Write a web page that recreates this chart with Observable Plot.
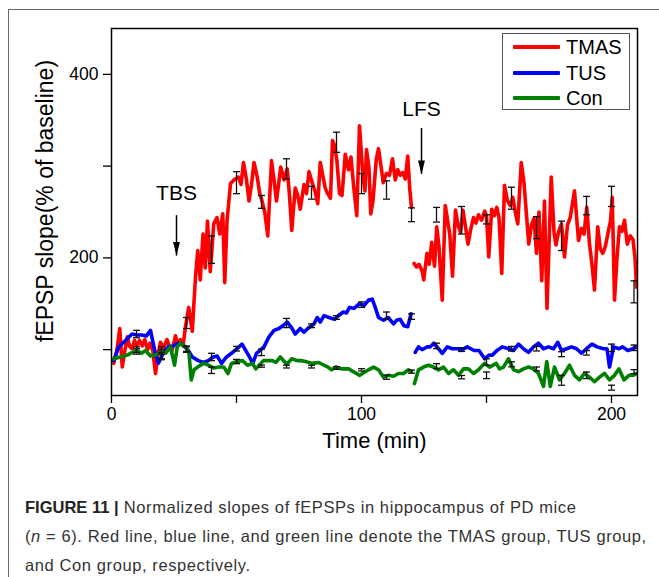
<!DOCTYPE html>
<html>
<head>
<meta charset="utf-8">
<script src="https://cdn.jsdelivr.net/npm/d3@7"></script>
<script src="https://cdn.jsdelivr.net/npm/@observablehq/plot@0.6"></script>
<style>
  html, body { margin: 0; padding: 0; background: #fff; }
  body { width: 659px; height: 577px; overflow: hidden; position: relative;
         font-family: "Liberation Sans", Arial, sans-serif; }
  #page { position: absolute; left: 8px; top: 9px; width: 700px; height: 700px;
          border: 1px solid #6a6a6a; }
  #chart { position: absolute; left: 0; top: 0; }
  #ytitle { position: absolute; left: 45px; top: 201px; width: 0; height: 0; }
  #ytitle span { position: absolute; left: 0; top: 0; white-space: nowrap; font-size: 23px;
                 color: #000; transform: translate(-50%, -50%) rotate(-90deg); }
  #legend { position: absolute; left: 502px; top: 33px; width: 126px; height: 75px;
            border: 1px solid #555; background: #fff; }
  .row { position: absolute; left: 0; height: 26px; width: 126px; }
  .swatch { position: absolute; left: 10px; width: 47px; height: 4px; top: 11px; border-radius: 1px; }
  .name { position: absolute; left: 63px; top: 0; font-size: 20px; line-height: 26px; color: #000; }
  #caption { position: absolute; left: 25px; top: 493px; width: 640px; font-size: 16.5px;
             letter-spacing: 0.6px; line-height: 29px; color: #333; white-space: nowrap; }
  #caption b { color: #222; letter-spacing: 0; }
</style>
</head>
<body>
<div id="page"></div>
<div id="chart"></div>
<div id="ytitle"><span></span></div>
<div id="legend"></div>
<div id="caption"><b>FIGURE 11 |</b> Normalized slopes of fEPSPs in hippocampus of PD mice<br>(<i>n</i> = 6). Red line, blue line, and green line denote the TMAS group, TUS group,<br>and Con group, respectively.</div>
<script>
// ---- groups ----
const groupNames = ["TMAS", "TUS", "Con"];
const groupColors = ["#ff0000", "#0000ff", "#008000"];

// ---- TMAS: normalized fEPSP slope (% of baseline) vs time (min) ----
const tmasTime = [0.9,2.2,3.3,4.3,5.3,6.3,7.2,8.2,9.2,10.2,11.2,12.3,13.3,14.4,15.4,16.5,17.6,18.6,19.6,20.8,22.2,23.2,24.2,25.6,26.6,27.6,28.6,29.6,30.9,32.3,33.6,34.5,35.5,36.6,37.5,38.4,39.5,40.9,42.2,43.3,44.5,45.3,46.2,47.6,49,50.8,51.8,52.8,54,55,56,57,58.3,59.3,60.2,61.3,62.5,64,65,66,67.7,69,70.3,71.2,72.1,73.5,74.5,75.5,77,78,79,80.5,81.5,82.5,83.5,84.5,85.5,86.5,87.6,88.4,89.3,90.2,91.2,92.2,93.5,94.8,95.8,96.8,98.1,99.2,100.6,101.4,102,103,103.7,104.6,105.9,106.8,107.8,108.7,110,111.2,112.4,113.5,114.5,115.5,116.5,117.5,118.5,119.3,120,
  121,122,123,124.2,124.9,126.2,127.1,128.1,129.2,130.1,131,132.3,133.5,134.5,135.3,136.4,137.6,138.6,139.6,140.6,141.6,142.6,143.6,144.8,145.8,146.8,148,149.3,150,150.9,152.1,153.1,154.1,155,156.1,157.2,158.3,159.5,160.5,161.5,162.5,163.9,165,165.9,166.9,168,169,170,171,172.1,173.2,174.2,175.9,177,177.8,178.8,180,181.2,182.4,183.5,185.2,186.8,188,189,190.1,191.2,192.1,193.2,194.5,195.5,196.5,197.6,198.8,199.6,200.3,201.2,202.2,203.2,204.2,205.2,206.3,207.5,208.6,209.4,210];
const tmasSlope = [85,100,123,81,98,114,104,101,110,104,110,104,111,100,107,99,74,95,108,102,111,103,99,115,105,111,104,125,146,120,179,208,176,226,189,240,185,237,244,226,248,173,240,281,285,288,280,304,285,262,280,304,288,270,262,250,224,306,285,262,299,285,297,268,230,276,268,253,280,270,294,280,272,259,304,290,276,270,265,328,322,305,270,268,313,296,310,280,246,344,288,273,318,298,248,262,307,319,300,282,292,290,308,285,296,290,293,286,311,275,255,
  194,190,193,186,176,205,193,217,191,234,212,154,257,240,226,180,252,236,228,252,234,215,230,244,238,247,241,251,246,201,253,246,255,244,183,279,263,257,266,250,237,304,282,250,215,236,243,205,250,175,262,145,288,228,214,228,237,201,236,244,273,219,232,226,255,215,195,165,234,210,205,213,230,240,266,154,200,234,229,241,215,224,220,200,168];

// ---- TUS ----
const tusTime = [0.9,2.9,5.6,8.2,10,12,14,15.6,17.3,18.7,20.7,22.7,24.7,26.7,28.7,30.7,32.3,34.7,36.7,38.7,40.7,42.3,44,46,48,50.2,52.2,53.5,55,56.5,58,59.3,61,63,65,67,68.5,70.3,72,73.5,75.5,77,78.5,80,81,82.3,83.5,85,87,89.3,90.7,92.7,94,95.2,97,99.2,101,102.8,104.3,105.5,106.8,108.8,110.7,112.8,114,115.5,117,118.5,119.8,
  121.5,122.8,124.2,126.3,127.5,128.9,130.8,132.3,134.3,136.3,138.3,140.3,142.3,145,147,149.3,151,152.3,154.2,156.3,158.8,160.8,162.8,164.8,166.8,168.8,170.8,172.8,174.8,176.8,178.5,180,182,184,186,188,190,192.2,194.2,196.8,198.2,199.2,200.8,203,204.5,206.5,208.5,210];
const tusSlope = [88,103,110,117,116,116,115,121,99,85,96,103,104,107,105,99,92,88,86,88,92,93,85,92,96,101,106,100,93,85,96,99,103,114,121,123,126,130,124,117,123,119,123,126,128,135,130,137,135,133,137,141,140,146,145,150,148,154,155,146,135,132,135,128,132,133,126,125,139,
  97,103,100,103,103,107,101,96,103,101,101,100,103,99,99,90,94,94,99,103,101,99,106,101,97,103,107,101,103,101,108,99,101,103,101,96,101,106,103,101,101,81,103,101,103,99,101,103];

// ---- Con ----
const conTime = [0.9,3.6,6.3,8.3,10.3,12,13.6,15.6,17.6,19.6,21.6,23.6,25.2,26.3,27.6,29.6,31,31.9,33,35,36.9,38.9,40.9,42.9,44.9,46.6,48,50.4,52.4,54.4,56.4,57.7,60.8,62.5,64.4,65.8,67.5,70.1,72.1,74.3,75.7,77.6,80.3,82.9,85,86.6,88,89.7,92.3,93.2,95,96.7,99.3,101,102.8,104.8,106.8,108.8,110.8,112.8,114.8,116.8,118.8,120,
  121.2,122.8,124.8,126.8,128.8,130.8,132.8,134.8,136.8,138.8,140.8,142.8,144.8,146.8,149.2,151.2,153.9,155.2,156.8,158.8,160.8,162.8,164.8,166.8,168.8,170.8,172.8,174.1,175.5,177.2,179.2,181.2,183.2,185.2,187.2,189.2,191.2,193.2,195.2,197.2,199.2,201.2,203,205,207,208.8,210];
const conSlope = [90,92,94,97,99,96,99,93,94,97,96,103,83,103,107,103,96,67,78,82,85,83,80,81,81,74,85,87,88,83,85,79,88,88,88,86,92,84,90,88,88,87,85,86,83,81,78,81,79,79,79,76,72,75,78,81,78,70,72,71,74,74,78,76,
  63,78,81,83,81,78,81,74,78,72,79,79,74,78,85,81,85,79,81,90,78,76,79,81,79,74,60,87,60,81,67,74,83,72,67,74,70,65,70,74,67,72,79,67,72,72,74];

// ---- error bars (mean ± SEM) every 10 min ----
const errTime = [10,20,30,40,50,60,70,80,90,100,110,120,130,140,150,160,170,180,190,200,209];
const tmasErrMean = [100,99,129,209,282,261,297,271,326,281,274,247,247,241,242,265,233,224,257,267,163];
const tmasErrSem  = [3,4,6,15,12,7,11,7,11,11,10,7.5,8,15,5,12,12,16,10,11,12];
const tusErrMean  = [117,95,101,92,101,97,129,126,135,149,137,136,104,100,86.5,101,101,95,96.5,102,102];
const tusErrSem   = [4,5,3,4,2.5,3.5,5,2,2,3,4,3,3,2,3.5,2.5,2.5,2.7,2.5,4,3];
const conErrMean  = [98,93,100,77.5,87,82,81.5,81.5,80,78,70,76,82,70,72,84,79,66.6,72,58.5,76];
const conErrSem   = [3,4,3,3.5,2.3,1.2,1.5,1.5,1.5,1.3,2.3,1.7,2.7,1.8,3.6,2.7,2.1,5.4,3.6,2.7,2.2];

// ---- axes ----
const xTicks = [0, 50, 100, 150, 200];
const xTickLabels = [0, 100, 200];
const yTicks = [100, 200, 300, 400];
const yTickLabels = [200, 400];
const xTitle = "Time (min)";
const yTitle = "fEPSP slope(% of baseline)";

// recording pause around low-frequency stimulation
const recordingBreak = 120.5;

// ---- stimulation annotations ----
const stimLabels = ["TBS", "LFS"];
const stimTime = [26, 124];
const stimArrowTop = [246, 341];
const stimArrowTip = [202, 291];
const stimLabelLevel = [270, 362];

const zip = (ts, vs) => ts.map((t, i) => ({t, v: vs[i]}));
const series = [
  {name: groupNames[0], color: groupColors[0], rows: zip(tmasTime, tmasSlope)},
  {name: groupNames[1], color: groupColors[1], rows: zip(tusTime, tusSlope)},
  {name: groupNames[2], color: groupColors[2], rows: zip(conTime, conSlope)}
];
const errRows = (means, sems) => errTime.map((t, i) => ({t, m: means[i], s: sems[i]}));
const errors = [errRows(tmasErrMean, tmasErrSem), errRows(tusErrMean, tusErrSem), errRows(conErrMean, conErrSem)];
const stims = stimLabels.map((label, i) => ({label, t: stimTime[i], top: stimArrowTop[i], tip: stimArrowTip[i], ly: stimLabelLevel[i]}));

// horizontal cap for error bars
const capSymbol = {
  draw(context, size) {
    const w = Math.sqrt(size) / 2;
    context.moveTo(-w, 0);
    context.lineTo(w, 0);
  }
};
// narrow filled arrowhead, tip at the anchor point, pointing down
const headSymbol = {
  draw(context, size) {
    const s = Math.sqrt(size);
    context.moveTo(-s * 0.22, -s * 0.9);
    context.lineTo(s * 0.22, -s * 0.9);
    context.lineTo(0, 0);
    context.closePath();
  }
};

const capR = 7 / Math.sqrt(Math.PI);
const headR = 15.5 / Math.sqrt(Math.PI);

const chart = Plot.plot({
  width: 659,
  height: 470,
  marginLeft: 111,
  marginRight: 22,
  marginTop: 28,
  marginBottom: 75,
  style: {fontFamily: "'Liberation Sans', Arial, sans-serif", color: "#000", background: "transparent"},
  x: {domain: [0, 210.4]},
  y: {domain: [50, 450]},
  marks: [
    Plot.axisX({ticks: xTicks, tickFormat: d => xTickLabels.includes(d) ? String(d) : "",
      tickSize: 8, tickPadding: 4, fontSize: 17.5, strokeWidth: 1.3, label: null}),
    Plot.axisY({ticks: yTicks, tickFormat: d => yTickLabels.includes(d) ? String(d) : "",
      tickSize: 8, tickPadding: 5, fontSize: 17.5, strokeWidth: 1.3, label: null}),
    ...series.map(s => Plot.line(s.rows, {
      x: "t", y: "v", z: d => d.t < recordingBreak ? "before" : "after",
      stroke: s.color, strokeWidth: 3.6, strokeLinejoin: "round", strokeLinecap: "round", clip: true
    })),
    ...errors.flatMap(e => [
      Plot.ruleX(e, {x: "t", y1: d => d.m - d.s, y2: d => d.m + d.s, stroke: "#111", strokeWidth: 1.3}),
      Plot.dot(e, {x: "t", y: d => d.m - d.s, symbol: capSymbol, r: capR, stroke: "#111", strokeWidth: 1.3, fill: "none"}),
      Plot.dot(e, {x: "t", y: d => d.m + d.s, symbol: capSymbol, r: capR, stroke: "#111", strokeWidth: 1.3, fill: "none"})
    ]),
    Plot.ruleX(stims, {x: "t", y1: "top", y2: "tip", stroke: "#000", strokeWidth: 1.5}),
    Plot.dot(stims, {x: "t", y: "tip", symbol: headSymbol, r: headR, fill: "#000", stroke: "none"}),
    Plot.text(stims, {x: "t", y: "ly", text: "label", fontSize: 21, fill: "#000"}),
    Plot.text([xTitle], {frameAnchor: "bottom", dy: 52, text: d => d, fontSize: 22, fill: "#000"}),
    Plot.frame({stroke: "#000", strokeWidth: 1.5})
  ]
});
document.getElementById("chart").appendChild(chart);
document.querySelector("#ytitle span").textContent = yTitle;

// legend
const legend = document.getElementById("legend");
series.forEach((s, i) => {
  const row = document.createElement("div");
  row.className = "row";
  row.style.top = (i * 25.7) + "px";
  const sw = document.createElement("div");
  sw.className = "swatch";
  sw.style.background = s.color;
  const nm = document.createElement("div");
  nm.className = "name";
  nm.textContent = s.name;
  row.appendChild(sw);
  row.appendChild(nm);
  legend.appendChild(row);
});
</script>
</body>
</html>
